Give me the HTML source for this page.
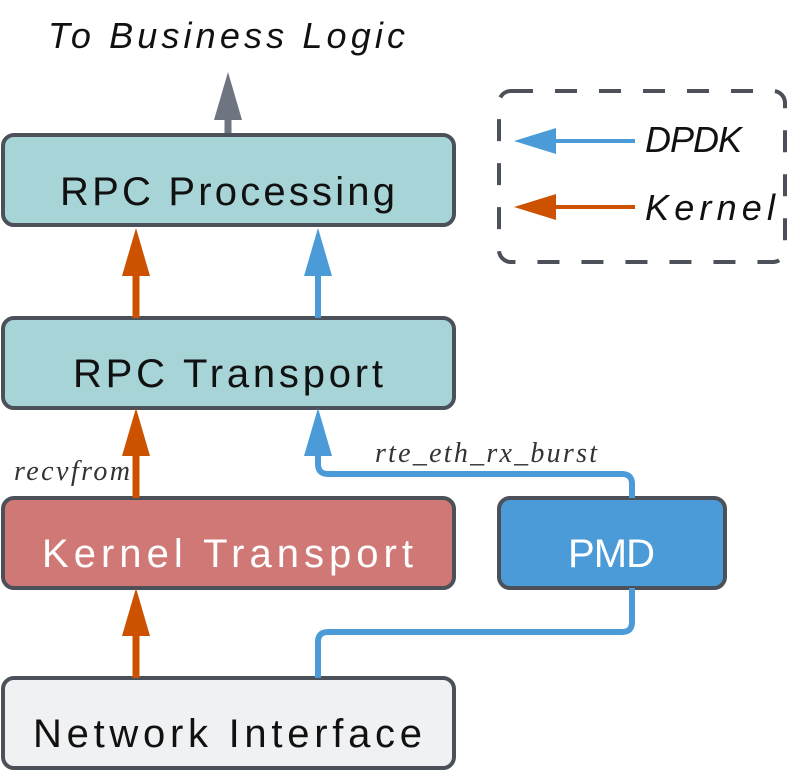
<!DOCTYPE html>
<html><head><meta charset="utf-8"><style>
html,body{margin:0;padding:0;background:#fff;}
svg{display:block;}
</style></head><body>
<svg width="795" height="770" viewBox="0 0 795 770" xmlns="http://www.w3.org/2000/svg">
<g font-family="Liberation Sans, sans-serif">
<line x1="228" y1="135" x2="228" y2="110" stroke="#6e7480" stroke-width="7"/>
<polygon points="228,72 214,120 242,120" fill="#6e7480"/>
<text x="48" y="48" font-size="36" font-style="italic" fill="#111" textLength="357" lengthAdjust="spacing">To Business Logic</text>

<rect x="3" y="135" width="451" height="90" rx="11" fill="#a7d4d7" stroke="#4b5059" stroke-width="4"/>
<text x="60" y="205" font-size="40" fill="#111" textLength="335" lengthAdjust="spacing">RPC Processing</text>
<rect x="3" y="318" width="451" height="90" rx="11" fill="#a7d4d7" stroke="#4b5059" stroke-width="4"/>
<text x="73" y="387" font-size="40" fill="#111" textLength="310" lengthAdjust="spacing">RPC Transport</text>
<rect x="3" y="498" width="451" height="90" rx="11" fill="#d07876" stroke="#4b5059" stroke-width="4"/>
<text x="42" y="567" font-size="40" fill="#fff" textLength="371" lengthAdjust="spacing">Kernel Transport</text>
<rect x="499" y="498" width="226" height="90" rx="11" fill="#4a9bd8" stroke="#4b5059" stroke-width="4"/>
<text x="568" y="567" font-size="40" fill="#fff" textLength="87" lengthAdjust="spacing">PMD</text>
<rect x="3" y="678" width="451" height="90" rx="11" fill="#f0f1f3" stroke="#4b5059" stroke-width="4"/>
<text x="33" y="747" font-size="40" fill="#111" textLength="389" lengthAdjust="spacing">Network Interface</text>

<g fill="#cc5200" stroke="#cc5200">
<line x1="136" y1="318" x2="136" y2="270" stroke-width="7"/>
<polygon points="136,228 122,276 150,276" stroke="none"/>
<line x1="136" y1="498" x2="136" y2="450" stroke-width="7"/>
<polygon points="136,408 122,456 150,456" stroke="none"/>
<line x1="136" y1="678" x2="136" y2="630" stroke-width="7"/>
<polygon points="136,588 122,636 150,636" stroke="none"/>
</g>

<line x1="318" y1="318" x2="318" y2="270" stroke="#4a9bd8" stroke-width="6"/>
<polygon points="318,228 304,276 332,276" fill="#4a9bd8"/>
<path d="M632,498 V484 Q632,474 622,474 H328 Q318,474 318,464 V450" fill="none" stroke="#4a9bd8" stroke-width="6"/>
<polygon points="318,408 304,456 332,456" fill="#4a9bd8"/>
<path d="M632,588 V622 Q632,632 622,632 H328 Q318,632 318,642 V678" fill="none" stroke="#4a9bd8" stroke-width="6"/>

<text x="14" y="480" font-family="Liberation Serif, serif" font-style="italic" font-size="28" fill="#333" textLength="116" lengthAdjust="spacing">recvfrom</text>
<text x="375" y="462" font-family="Liberation Serif, serif" font-style="italic" font-size="28" fill="#333" textLength="222" lengthAdjust="spacing">rte_eth_rx_burst</text>

<rect x="499" y="91" width="286" height="171" rx="12" fill="none" stroke="#4b5059" stroke-width="4" stroke-dasharray="22,22"/>
<line x1="550" y1="141" x2="635" y2="141" stroke="#4a9bd8" stroke-width="4"/>
<polygon points="514,141 556,128 556,154" fill="#4a9bd8"/>
<line x1="550" y1="207" x2="635" y2="207" stroke="#cc5200" stroke-width="4"/>
<polygon points="514,207 556,194 556,220" fill="#cc5200"/>
<text x="645" y="152" font-size="36" font-style="italic" fill="#111" textLength="97" lengthAdjust="spacing">DPDK</text>
<text x="645" y="220" font-size="36" font-style="italic" fill="#111" textLength="130" lengthAdjust="spacing">Kernel</text>
</g>
</svg>
</body></html>
